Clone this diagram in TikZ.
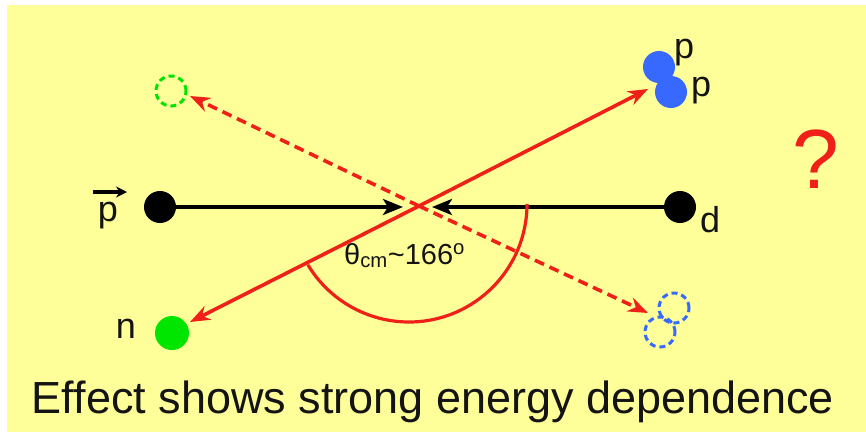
\documentclass[tikz,border=0pt]{standalone}
\usepackage{fontspec}
\setmainfont{Liberation Sans}
\usetikzlibrary{arrows.meta}
\definecolor{bgyel}{RGB}{255,255,153}
\definecolor{myred}{RGB}{238,32,24}
\definecolor{mygreen}{RGB}{0,230,0}
\definecolor{myblue}{RGB}{55,105,255}
\definecolor{txt}{RGB}{20,20,20}
\tikzset{
  dot/.style={circle,inner sep=0pt,minimum size=#1},
  blackdot/.style={dot=32pt,fill=black},
  ghost/.style={dot=30pt,draw,line width=3pt,dash pattern=on 6pt off 4pt},
  redtip/.style={-{Stealth[length=20pt,width=15pt]}},
  blacktip/.style={-{Stealth[length=20pt,width=16pt,inset=5pt]}},
  lbl/.style={font=\fontsize{36}{36}\selectfont,text=txt,inner sep=0pt,anchor=base},
}
\begin{document}
\begin{tikzpicture}[x=1pt,y=-1pt]
\useasboundingbox (0,0) rectangle (866,432);
\fill[white] (0,0) rectangle (866,432);
\fill[bgyel] (7,5) rectangle (866,432);

% particles
\node[blackdot] (pdot) at (160,207) {};
\node[blackdot] (ddot) at (680,207) {};
\node[dot=34pt,fill=mygreen] (ndot) at (172,333) {};
\node[dot=32pt,fill=myblue] (pp1) at (659,67) {};
\node[dot=32pt,fill=myblue] (pp2) at (671,92) {};
\node[ghost,draw=mygreen] (gdash) at (171,91) {};
\node[ghost,draw=myblue] (bd1) at (674,308) {};
\node[ghost,draw=myblue] (bd2) at (660,332) {};

% connector ends
\coordinate (cL) at (403,207);
\coordinate (cR) at (432,207);
\coordinate (nTip) at (190,322);
\coordinate (ppTip) at (648,89);
\coordinate (gTip) at (190,96);
\coordinate (bTip) at (648,313);
\coordinate (mid) at (419,206);
\coordinate (arcC) at (409,204);

% black beams
\draw[blacktip,line width=3.6pt] (pdot) -- (cL);
\draw[blacktip,line width=3.6pt] (ddot) -- (cR);

% red lines
\draw[myred,line width=3.6pt,redtip] (mid) -- (ppTip);
\draw[myred,line width=3.6pt,redtip] (mid) -- (nTip);
\draw[myred,line width=3.6pt,dash pattern=on 10pt off 6pt,redtip] (mid) -- (gTip);
\draw[myred,line width=3.6pt,dash pattern=on 10pt off 6pt,redtip] (mid) -- (bTip);

% angle arc
\draw[myred,line width=3.2pt] ([shift={(118,0)}]arcC) arc[start angle=0,end angle=149,radius=118];

% labels
\node[lbl] (plab) at (108,221) {p};
\coordinate (vA) at (93,192);
\coordinate (vB) at (127,192);
\draw[line width=3.4pt,-{Stealth[length=11pt,width=11pt]}] (vA) -- (vB);
\node[lbl] (dlab) at (710,232) {d};
\node[lbl] (p1lab) at (684,58) {p};
\node[lbl] (p2lab) at (701,96) {p};
\node[lbl] (nlab) at (126,338) {n};
\node[font=\fontsize{29}{29}\selectfont,text=txt,inner sep=0pt,anchor=base west] (theta) at (344,264) {θ\textsubscript{cm}\textasciitilde 166\textsuperscript{o}};
\node[font=\fontsize{84}{84}\selectfont,text=myred,inner sep=0pt,anchor=base] (q) at (816,188) {?};
\node[font=\fontsize{45}{45}\selectfont,text=txt,inner sep=0pt,anchor=base] (cap) at (433,413) {Effect shows strong energy dependence};
\end{tikzpicture}
\end{document}
